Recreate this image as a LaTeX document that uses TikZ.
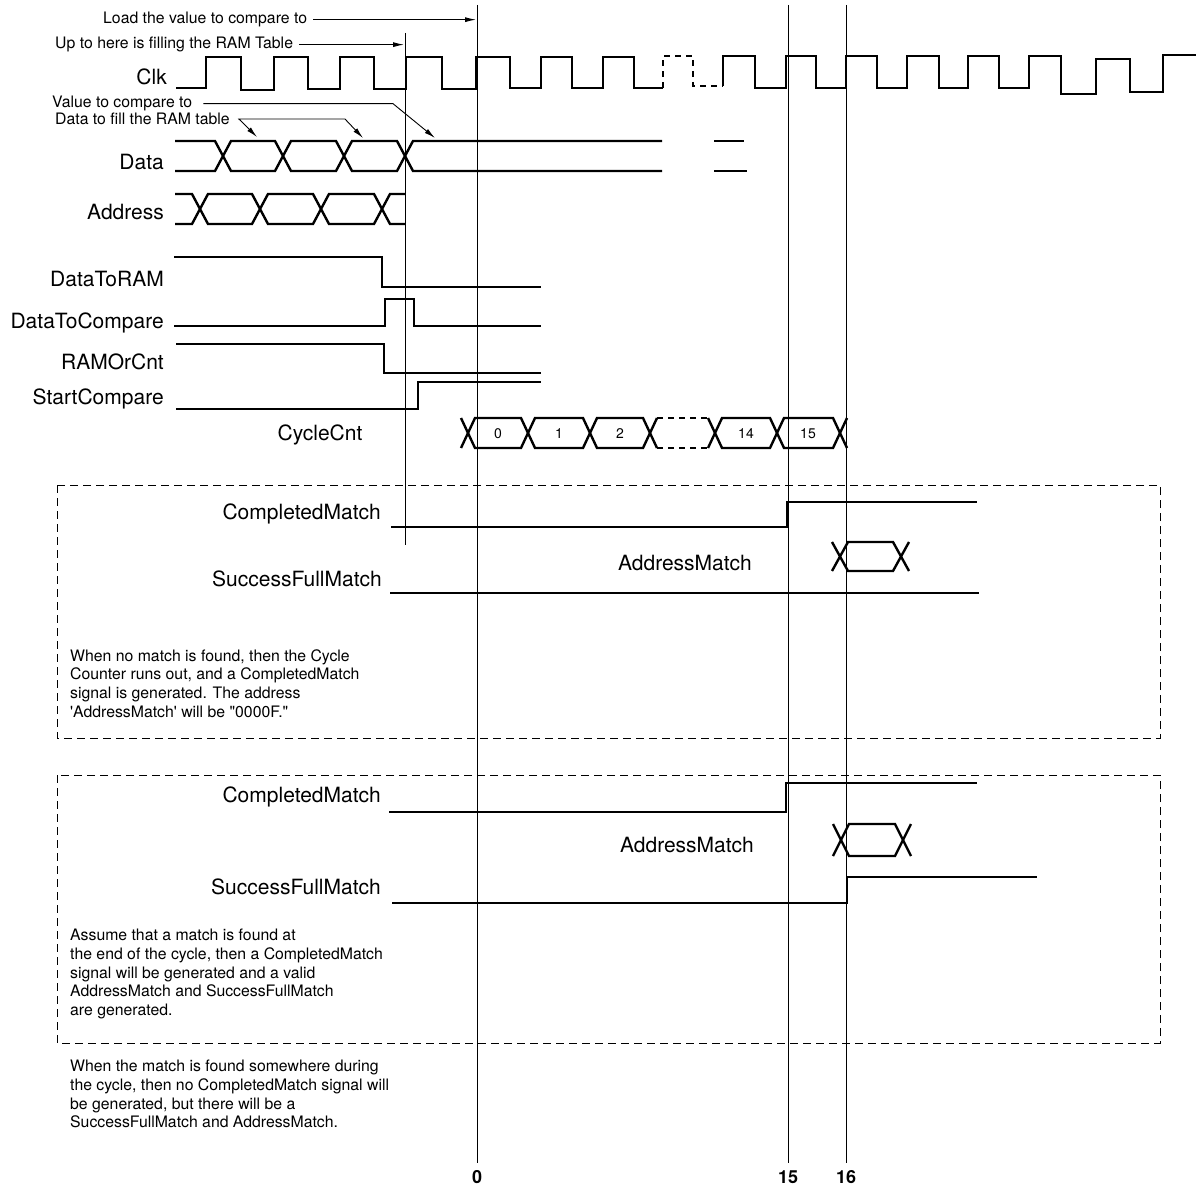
\documentclass[tikz,border=0pt]{standalone}
\usepackage{fontspec}
\setmainfont{TeX Gyre Heros}
\usetikzlibrary{arrows.meta}
\newcommand\labfnt{\fontsize{21}{25}\selectfont}
\newcommand\notefnt{\fontsize{15.8}{18.7}\selectfont}
\newcommand\digfnt{\fontsize{14}{16}\selectfont}
\newcommand\tickfnt{\fontsize{18}{20}\selectfont\bfseries}
\begin{document}
\begin{tikzpicture}[x=1pt,y=-1pt,
  sig/.style={line width=2.4pt,line join=miter},
  sigdash/.style={sig,dash pattern=on 6pt off 5pt},
  vline/.style={line width=0.9pt},
  boxline/.style={line width=0.9pt,dash pattern=on 8pt off 5pt},
  arr/.style={line width=0.9pt,-{Latex[length=11pt,width=5pt]}},
  arrboth/.style={line width=0.9pt,{Latex[length=11pt,width=5pt]}-{Latex[length=11pt,width=5pt]}},
  lab/.style={font=\labfnt,anchor=base east,inner sep=0pt},
  labc/.style={font=\labfnt,anchor=base,inner sep=0pt},
  note/.style={font=\notefnt,align=left,inner sep=0pt},
  dig/.style={font=\digfnt,anchor=base,inner sep=0pt},
  tick/.style={font=\tickfnt,anchor=base,inner sep=0pt}]
\useasboundingbox (0,0) rectangle (1196,1190);

% ---------- vertical reference lines ----------
\draw[vline] (405,33) -- (405,545);
\draw[vline] (477,5) -- (477,1163);
\draw[vline] (788,5) -- (788,1163);
\draw[vline] (846,5) -- (846,1163);

% ---------- top annotations ----------
\node[note,anchor=base west] (load) at (103,23.7) {Load the value to compare to};
\coordinate (loadx) at (476,0);
\draw[arr] ([xshift=6pt]load.east) -- (load.east -| loadx);
\node[note,anchor=base west] (upto) at (55,48.7) {Up to here is filling the RAM Table};
\coordinate (uptox) at (404,0);
\draw[arr] ([xshift=6pt]upto.east) -- (upto.east -| uptox);

\node[note,anchor=base west] (val) at (52,107.7) {Value to compare to};
\coordinate (valbend) at (393,0);
\coordinate (valtip) at (435,138);
\draw[arr] ([xshift=11pt]val.east) -- (val.east -| valbend) -- (valtip);
\node[note,anchor=base west] (fill) at (55,124.7) {Data to fill the RAM table};
\coordinate (filltipA) at (257,137);
\coordinate (fillbend) at (345,0);
\coordinate (filltipB) at (363,138);
\draw[arrboth] (filltipA) -- ([xshift=9pt]fill.east) -- (fill.east -| fillbend) -- (filltipB);

% ---------- Clk ----------
\node[lab] (lclk) at (167,84.5) {Clk};
\draw[sig] (176,88) -- (206,88) -- (206,57) -- (241,57) -- (241,90) -- (274,90) -- (274,57) -- (308,57) -- (308,89) -- (340,89) -- (340,57) -- (374,57) -- (374,89) -- (406,89) -- (406,57) -- (442,57) -- (442,89) -- (476,89) -- (476,57) -- (510,57) -- (510,88) -- (541,88) -- (541,57) -- (572,57) -- (572,88) -- (603,88) -- (603,57) -- (634,57) -- (634,88) -- (663,88);
\draw[sigdash] (663,88) -- (663,56) -- (693,56) -- (693,86) -- (723,86);
\draw[sig] (723,86) -- (723,56) -- (755,56) -- (755,88) -- (786,88) -- (786,56) -- (816,56) -- (816,88) -- (846,88) -- (846,56) -- (877,56) -- (877,88) -- (907,88) -- (907,56) -- (939,56) -- (939,88) -- (968,88) -- (968,56) -- (999,56) -- (999,88) -- (1029,88) -- (1029,56) -- (1061,56) -- (1061,94) -- (1096,94) -- (1096,59) -- (1130,59) -- (1130,92) -- (1163,92) -- (1163,55) -- (1196,55);

% ---------- Data ----------
\node[lab] (ldata) at (164,169.5) {Data};
\draw[sig] (175,141) -- (215,141) -- (231,171) -- (275,171) -- (291,141) -- (336,141) -- (352,171) -- (397,171) -- (413,141) -- (662,141);
\draw[sig] (175,171) -- (215,171) -- (231,141) -- (275,141) -- (291,171) -- (336,171) -- (352,141) -- (397,141) -- (413,171) -- (662,171);
\draw[sig] (714,141) -- (744,141);
\draw[sig] (714,171) -- (747,171);

% ---------- Address ----------
\node[lab] (laddr) at (164,219.5) {Address};
\draw[sig] (175,194) -- (192,194) -- (208,224) -- (252,224) -- (268,194) -- (313,194) -- (329,224) -- (374,224) -- (390,194) -- (405,194);
\draw[sig] (175,224) -- (192,224) -- (208,194) -- (252,194) -- (268,224) -- (313,224) -- (329,194) -- (374,194) -- (390,224) -- (405,224);

% ---------- control signals ----------
\node[lab] (ldtr) at (164,286.5) {DataToRAM};
\draw[sig] (174,257) -- (382,257) -- (382,287) -- (541,287);
\node[lab] (ldtc) at (164,328.5) {DataToCompare};
\draw[sig] (174,326) -- (385,326) -- (385,299) -- (414,299) -- (414,326) -- (541,326);
\node[lab] (lroc) at (164,369.5) {RAMOrCnt};
\draw[sig] (176,344) -- (384,344) -- (384,373) -- (541,373);
\node[lab] (lsc) at (164,404.5) {StartCompare};
\draw[sig] (176,409) -- (418,409) -- (418,382) -- (541,382);

% ---------- CycleCnt ----------
\node[labc] (lcc) at (320,440.5) {CycleCnt};
\draw[sig] (461,418) -- (475,448) -- (521,448) -- (535,418) -- (583,418) -- (597,448) -- (643,448) -- (657,418);
\draw[sig] (461,448) -- (475,418) -- (521,418) -- (535,448) -- (583,448) -- (597,418) -- (643,418) -- (657,448);
\draw[sigdash] (657,418) -- (708,418);
\draw[sigdash] (657,448) -- (708,448);
\draw[sig] (708,418) -- (722,448) -- (770,448) -- (784,418) -- (833,418) -- (847,448);
\draw[sig] (708,448) -- (722,418) -- (770,418) -- (784,448) -- (833,448) -- (847,418);
\node[dig] (c0) at (498,438) {0};
\node[dig] (c1) at (559,438) {1};
\node[dig] (c2) at (620,438) {2};
\node[dig] (c14) at (746,438) {14};
\node[dig] (c15) at (808,438) {15};

% ---------- box 1 ----------
\draw[boxline] (57,485) rectangle (1160,738);
\node[lab] (lcm1) at (381,519.5) {CompletedMatch};
\draw[sig] (391,527) -- (787,527) -- (787,502) -- (977,502);
\node[labc] (lam1) at (685,570.5) {AddressMatch};
\draw[sig] (832,542) -- (848,571) -- (893,571) -- (909,542);
\draw[sig] (832,571) -- (848,542) -- (893,542) -- (909,571);
\node[lab] (lsfm1) at (382,586.5) {SuccessFullMatch};
\draw[sig] (390,593) -- (979,593);
\node[note,anchor=north west] (n1) at (70,649) {When no match is found, then the Cycle\\Counter runs out, and a CompletedMatch\\signal is generated. The address\\\textquotesingle AddressMatch\textquotesingle{} will be \textquotedbl 0000F.\textquotedbl};

% ---------- box 2 ----------
\draw[boxline] (57,775) rectangle (1160,1043);
\node[lab] (lcm2) at (381,802.5) {CompletedMatch};
\draw[sig] (389,812) -- (786,812) -- (786,783) -- (977,783);
\node[labc] (lam2) at (687,852.5) {AddressMatch};
\draw[sig] (833,824) -- (849,856) -- (895,856) -- (911,824);
\draw[sig] (833,856) -- (849,824) -- (895,824) -- (911,856);
\node[lab] (lsfm2) at (381,894.5) {SuccessFullMatch};
\draw[sig] (392,903) -- (847,903) -- (847,877) -- (1037,877);
\node[note,anchor=north west] (n2) at (70,929) {Assume that a match is found at\\the end of the cycle, then a CompletedMatch\\signal will be generated and a valid\\AddressMatch and SuccessFullMatch\\are generated.};

% ---------- bottom ----------
\node[note,anchor=north west] (n3) at (70,1060) {When the match is found somewhere during\\the cycle, then no CompletedMatch signal will\\be generated, but there will be a\\SuccessFullMatch and AddressMatch.};
\node[tick] (t0) at (477,1183.5) {0};
\node[tick] (t15) at (788,1183.5) {15};
\node[tick] (t16) at (846,1183.5) {16};
\end{tikzpicture}
\end{document}
